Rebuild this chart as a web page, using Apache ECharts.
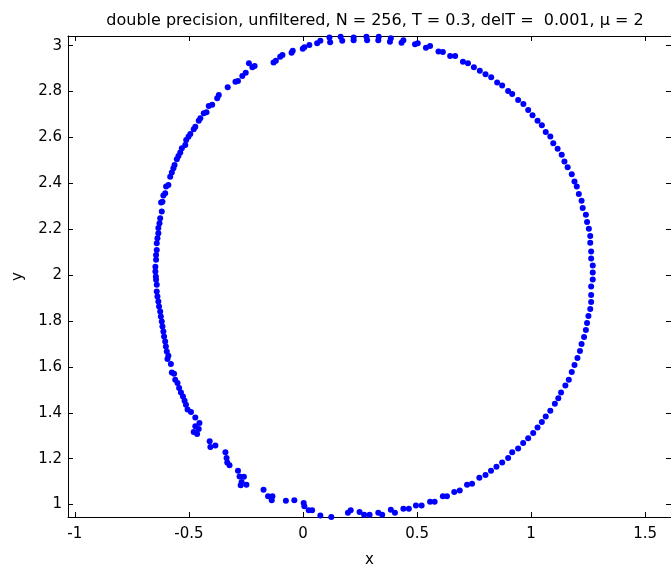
<!DOCTYPE html>
<html style="height: 100%">
	<head>
		<meta charset="utf-8">
	</head>
	<body style="height: 100%; margin: 0">
		<div id="container" style="width: 671px; height: 564px"></div>

		<script type="text/javascript" src="https://cdn.jsdelivr.net/npm/echarts@6/dist/echarts.min.js"></script>
		<script type="text/javascript">
			// points, going round the loop
			const xVals = [
				0.440, 0.432, 0.385, 0.381, 0.332, 0.330, 0.278, 0.281, 0.222, 0.222,
				0.172, 0.165, 0.119, 0.116, 0.076, 0.062, 0.028, 0.006, -0.001,
				-0.045, -0.050, -0.090, -0.100, -0.119, -0.129, -0.212, -0.222, -0.237, -0.251,
				-0.266, -0.285, -0.296, -0.330, -0.369, -0.376, -0.398, -0.413, -0.423, -0.435,
				-0.450, -0.457, -0.472, -0.479, -0.494, -0.502, -0.512, -0.516, -0.531, -0.538,
				-0.546, -0.553, -0.563, -0.568, -0.575, -0.582, -0.590, -0.600, -0.604, -0.612,
				-0.616, -0.622, -0.619, -0.626, -0.629, -0.634, -0.634, -0.638, -0.641, -0.641,
				-0.644, -0.644, -0.647, -0.647, -0.645,
				-0.644, -0.641, -0.641, -0.638, -0.634, -0.631, -0.626, -0.623, -0.619, -0.616,
				-0.612, -0.609, -0.604, -0.601, -0.597, -0.590, -0.594, -0.579, -0.575, -0.565,
				-0.560, -0.550, -0.543, -0.535, -0.526, -0.519, -0.513, -0.506, -0.491, -0.472,
				-0.454, -0.472, -0.457, -0.479, -0.464, -0.409, -0.406, -0.384, -0.340, -0.335,
				-0.332, -0.322, -0.285, -0.278, -0.259, -0.269, -0.273, -0.248, -0.173, -0.153,
				-0.134, -0.137, -0.075, -0.038, 0.003, 0.006, 0.025, 0.040, 0.076,
				0.124, 0.197, 0.209, 0.248, 0.268, 0.292, 0.330, 0.347, 0.385, 0.403,
				0.440, 0.464, 0.495, 0.520, 0.557, 0.577, 0.613, 0.631, 0.663, 0.687,
				0.719, 0.741, 0.773, 0.800, 0.824, 0.848, 0.873, 0.899, 0.917, 0.943,
				0.965, 0.987, 1.009, 1.028, 1.047, 1.064, 1.084, 1.104, 1.119, 1.131,
				1.150, 1.165,
				1.178, 1.190, 1.203, 1.214, 1.221, 1.232, 1.240, 1.245, 1.251, 1.259,
				1.263, 1.263, 1.263, 1.270, 1.270, 1.270, 1.263, 1.263, 1.259, 1.259,
				1.253, 1.245, 1.240, 1.226, 1.221, 1.209, 1.200, 1.190,
				1.178, 1.160, 1.146, 1.134, 1.116, 1.097, 1.084, 1.064, 1.047, 1.028,
				1.006, 0.987, 0.966, 0.943, 0.917, 0.899, 0.873, 0.851, 0.825, 0.800,
				0.775, 0.749, 0.723, 0.701, 0.667, 0.645, 0.613, 0.594, 0.557, 0.539,
				0.503, 0.491
			];
			const yVals = [
				3.024, 3.013, 3.032, 3.017, 3.039, 3.024, 3.039, 3.024, 3.036, 3.024,
				3.021, 3.039, 3.015, 3.036, 3.021, 3.010, 3.003, 2.993, 2.986,
				2.978, 2.969, 2.959, 2.952, 2.934, 2.927, 2.911, 2.906, 2.923, 2.882,
				2.868, 2.846, 2.843, 2.819, 2.785, 2.771, 2.742, 2.737, 2.710, 2.705,
				2.684, 2.673, 2.647, 2.636, 2.615, 2.603, 2.589, 2.567, 2.553, 2.534,
				2.519, 2.505, 2.480, 2.466, 2.447, 2.429, 2.393, 2.386, 2.357, 2.347,
				2.320, 2.316, 2.277, 2.248, 2.226, 2.205, 2.183, 2.161, 2.139, 2.110,
				2.088, 2.067, 2.037, 2.016, 1.994,
				1.980, 1.958, 1.929, 1.907, 1.885, 1.863, 1.842, 1.820, 1.798, 1.776,
				1.754, 1.733, 1.711, 1.689, 1.667, 1.649, 1.634, 1.613, 1.576, 1.570,
				1.544, 1.530, 1.508, 1.489, 1.471, 1.453, 1.435, 1.414, 1.404, 1.380,
				1.356, 1.341, 1.329, 1.316, 1.308, 1.276, 1.251, 1.258, 1.228, 1.203,
				1.184, 1.171, 1.148, 1.123, 1.121, 1.099, 1.084, 1.087, 1.065, 1.036,
				1.036, 1.019, 1.017, 1.019, 1.007, 0.993, 0.975, 0.975, 0.953,
				0.946, 0.964, 0.975, 0.968, 0.956, 0.956, 0.964, 0.956, 0.978, 0.964,
				0.982, 0.982, 0.996, 0.996, 1.012, 1.012, 1.036, 1.036, 1.055, 1.062,
				1.086, 1.091, 1.117, 1.129, 1.148, 1.165, 1.184, 1.203, 1.228, 1.245,
				1.269, 1.289, 1.312, 1.336, 1.360, 1.384, 1.409, 1.440, 1.464, 1.489,
				1.519, 1.544,
				1.578, 1.608, 1.639, 1.669, 1.700, 1.730, 1.761, 1.791, 1.822, 1.852,
				1.883, 1.913, 1.950, 1.981, 2.011, 2.042, 2.072, 2.103, 2.141, 2.171,
				2.202, 2.232, 2.263, 2.293, 2.324, 2.354, 2.386, 2.408,
				2.440, 2.470, 2.495, 2.525, 2.551, 2.575, 2.604, 2.624, 2.653, 2.673,
				2.697, 2.720, 2.746, 2.763, 2.789, 2.802, 2.826, 2.839, 2.862, 2.875,
				2.891, 2.906, 2.923, 2.930, 2.955, 2.955, 2.972, 2.974, 2.998, 2.991,
				3.010, 3.006
			];

			const xTicks = [-1, -0.5, 0, 0.5, 1, 1.5];
			const yTicks = [1, 1.2, 1.4, 1.6, 1.8, 2, 2.2, 2.4, 2.6, 2.8, 3];
			const xRange = [-1.03, 1.613];
			const yRange = [0.946, 3.042];

			const titleText = 'double precision, unfiltered, N = 256, T = 0.3, delT =  0.001, \u03bc = 2';

			var points = [];
			for (var i = 0; i < xVals.length; i++) {
				points.push([xVals[i], yVals[i]]);
			}

			var dom = document.getElementById("container");
			var myChart = echarts.init(dom);
			var font = 'DejaVu Sans';

			function frameAxis(pos, range, ticks, showLabels) {
				return {
					type: 'value',
					position: pos,
					min: range[0],
					max: range[1],
					axisLine: { show: true, onZero: false, lineStyle: { color: '#000', width: 1 } },
					axisTick: { show: true, inside: true, length: 5, customValues: ticks, lineStyle: { color: '#000' } },
					axisLabel: {
						show: showLabels,
						customValues: ticks,
						color: '#000',
						fontFamily: font,
						fontSize: 15,
						margin: 10
					},
					splitLine: { show: false }
				};
			}

			var xBottom = frameAxis('bottom', xRange, xTicks, true);
			xBottom.name = 'x';
			xBottom.nameLocation = 'middle';
			xBottom.nameGap = 36;
			xBottom.nameTextStyle = { color: '#000', fontFamily: font, fontSize: 15 };

			var yLeft = frameAxis('left', yRange, yTicks, true);
			yLeft.axisLabel.margin = 6;
			yLeft.name = 'y';
			yLeft.nameLocation = 'middle';
			yLeft.nameGap = 42;
			yLeft.nameTextStyle = { color: '#000', fontFamily: font, fontSize: 15 };

			var option = {
				animation: false,
				backgroundColor: '#fff',
				title: {
					text: titleText,
					left: 370,
					top: 8,
					textAlign: 'center',
					textStyle: { color: '#000', fontFamily: font, fontSize: 16, fontWeight: 'normal' }
				},
				grid: { left: 68, right: 0, top: 36, bottom: 47, containLabel: false, outerBoundsMode: 'none' },
				xAxis: [xBottom, frameAxis('top', xRange, xTicks, false)],
				yAxis: [yLeft, frameAxis('right', yRange, yTicks, false)],
				series: [{
					type: 'scatter',
					data: points,
					symbol: 'circle',
					symbolSize: 6,
					clip: false,
					itemStyle: { color: '#0000ff', opacity: 1 }
				}]
			};

			if (option && typeof option === 'object') {
				myChart.setOption(option);
			}
		</script>
	</body>
</html>
